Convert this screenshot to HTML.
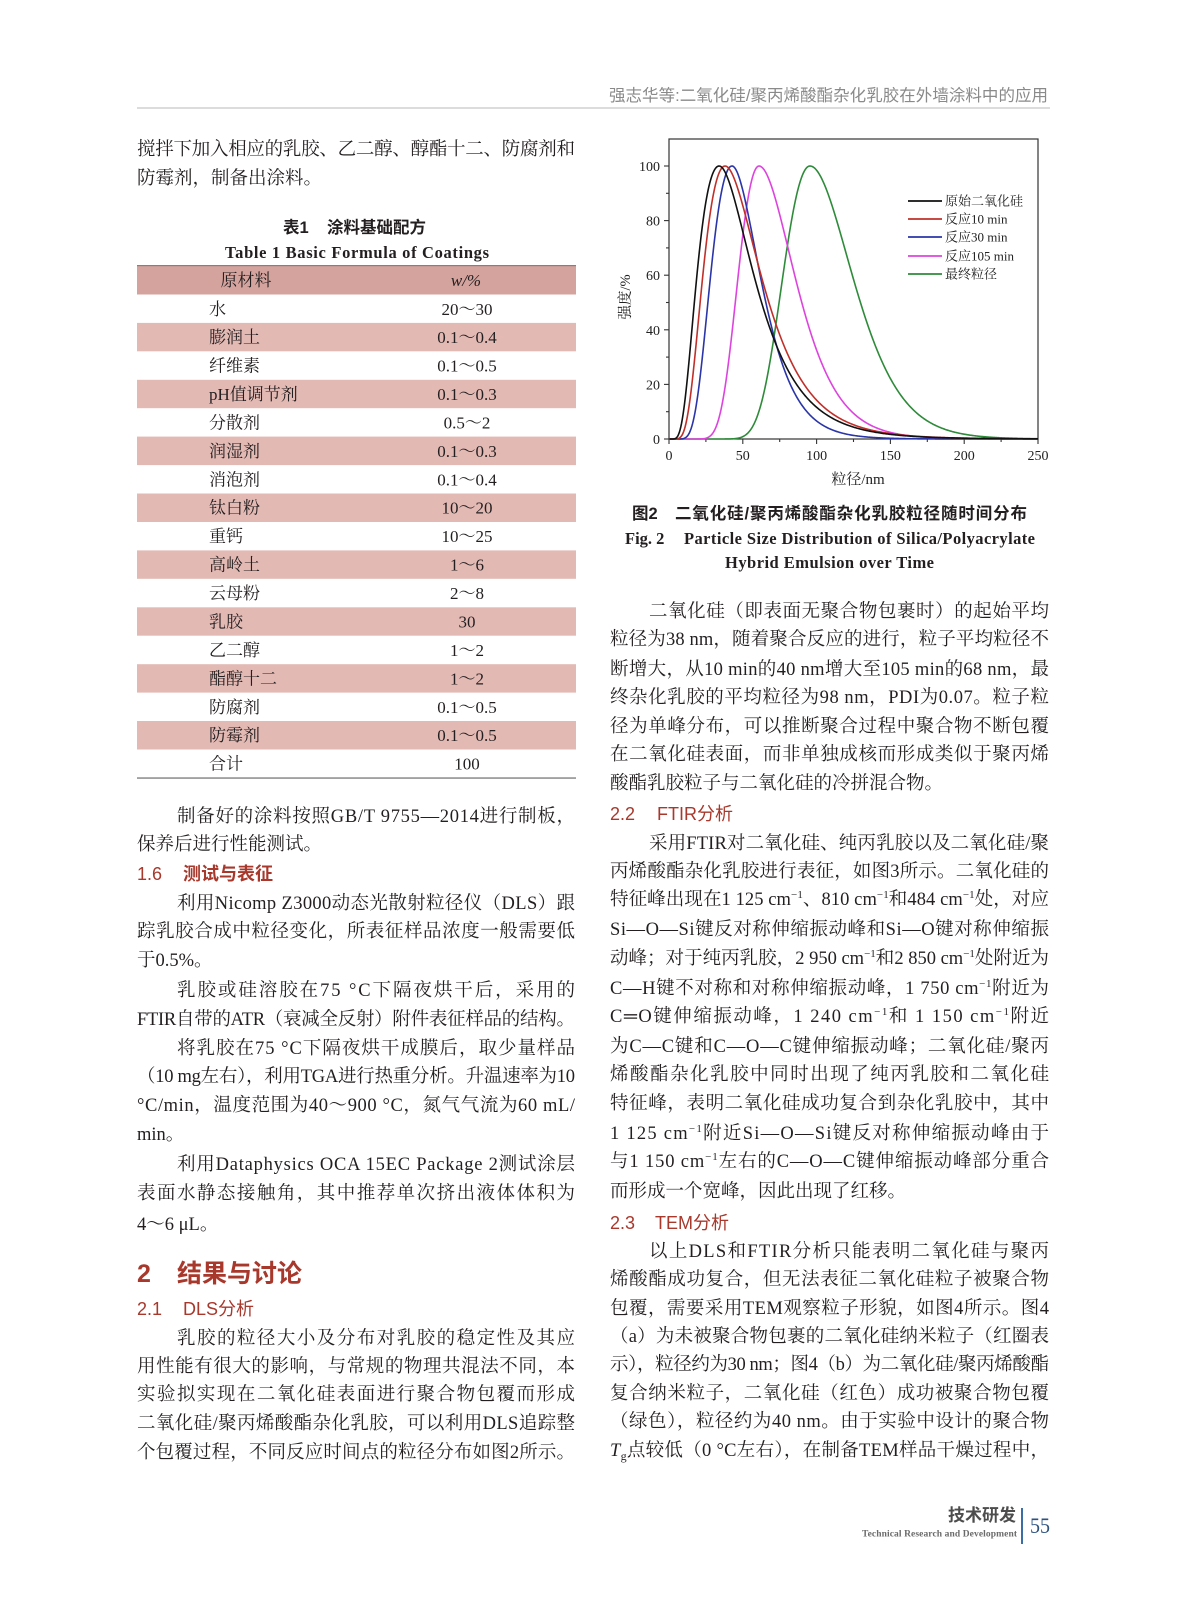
<!DOCTYPE html>
<html><head><meta charset="utf-8">
<style>
html,body{margin:0;padding:0;background:#fff;}
svg{display:block;}
.b{font-family:"Liberation Serif","Noto Serif CJK SC",serif;font-size:18.5px;fill:#231f20;}
.h{font-family:"Liberation Sans","Noto Sans CJK SC",sans-serif;font-size:18px;fill:#a8382c;}
.h2{font-family:"Liberation Sans","Noto Sans CJK SC",sans-serif;font-size:25px;font-weight:bold;fill:#a8382c;}
.t{font-family:"Liberation Serif","Noto Serif CJK SC",serif;font-size:17px;fill:#231f20;}
.cap{font-family:"Liberation Sans","Noto Sans CJK SC",sans-serif;font-size:16.5px;font-weight:bold;fill:#231f20;}
.capE{font-family:"Liberation Serif","Noto Serif CJK SC",serif;font-size:16.5px;font-weight:bold;fill:#231f20;}
.ax{font-family:"Liberation Serif","Noto Serif CJK SC",serif;font-size:14px;fill:#222;}
.lg{font-family:"Liberation Serif","Noto Serif CJK SC",serif;font-size:13px;fill:#222;}
</style></head>
<body>
<svg width="1187" height="1600" viewBox="0 0 1187 1600" xmlns="http://www.w3.org/2000/svg">
<rect width="1187" height="1600" fill="#fff"/>

<!-- running header -->
<text x="609" y="101" textLength="439" lengthAdjust="spacing" style="font-family:'Liberation Sans','Noto Sans CJK SC',sans-serif;font-size:16.5px;fill:#8a8a8a;">强志华等:二氧化硅/聚丙烯酸酯杂化乳胶在外墙涂料中的应用</text>
<rect x="137" y="107" width="913" height="2" fill="#dcdcdc"/>

<!-- LEFT COLUMN -->
<text class="b" x="137" y="155" textLength="438" lengthAdjust="spacing">搅拌下加入相应的乳胶、乙二醇、醇酯十二、防腐剂和</text>
<text class="b" x="137" y="184">防霉剂，制备出涂料。</text>

<text class="cap" x="283" y="233">表1<tspan x="327">涂料基础配方</tspan></text>
<text class="capE" x="225" y="258" textLength="264" lengthAdjust="spacing">Table 1  Basic Formula of Coatings</text>

<!-- table -->
<rect x="137" y="266" width="439" height="28.5" fill="#d5a39d"/>
<rect x="137" y="322.9" width="439" height="28.4" fill="#e3b9b4"/>
<rect x="137" y="379.8" width="439" height="28.4" fill="#e3b9b4"/>
<rect x="137" y="436.6" width="439" height="28.5" fill="#e3b9b4"/>
<rect x="137" y="493.5" width="439" height="28.5" fill="#e3b9b4"/>
<rect x="137" y="550.4" width="439" height="28.4" fill="#e3b9b4"/>
<rect x="137" y="607.3" width="439" height="28.4" fill="#e3b9b4"/>
<rect x="137" y="664.2" width="439" height="28.4" fill="#e3b9b4"/>
<rect x="137" y="721" width="439" height="28.5" fill="#e3b9b4"/>
<rect x="137" y="265" width="439" height="1.2" fill="#8c7c7a"/>
<rect x="137" y="777.3" width="439" height="1.5" fill="#8a8a8a"/>

<text class="t" x="246" y="286" text-anchor="middle">原材料</text>
<text class="t" x="466" y="286" text-anchor="middle" font-style="italic">w/%</text>

<text class="t" x="209" y="315">水</text><text class="t" x="467" y="315" text-anchor="middle">20～30</text>
<text class="t" x="209" y="343">膨润土</text><text class="t" x="467" y="343" text-anchor="middle">0.1～0.4</text>
<text class="t" x="209" y="371.5">纤维素</text><text class="t" x="467" y="371.5" text-anchor="middle">0.1～0.5</text>
<text class="t" x="209" y="400">pH值调节剂</text><text class="t" x="467" y="400" text-anchor="middle">0.1～0.3</text>
<text class="t" x="209" y="428.4">分散剂</text><text class="t" x="467" y="428.4" text-anchor="middle">0.5～2</text>
<text class="t" x="209" y="456.8">润湿剂</text><text class="t" x="467" y="456.8" text-anchor="middle">0.1～0.3</text>
<text class="t" x="209" y="485.3">消泡剂</text><text class="t" x="467" y="485.3" text-anchor="middle">0.1～0.4</text>
<text class="t" x="209" y="513.7">钛白粉</text><text class="t" x="467" y="513.7" text-anchor="middle">10～20</text>
<text class="t" x="209" y="542.2">重钙</text><text class="t" x="467" y="542.2" text-anchor="middle">10～25</text>
<text class="t" x="209" y="570.6">高岭土</text><text class="t" x="467" y="570.6" text-anchor="middle">1～6</text>
<text class="t" x="209" y="599">云母粉</text><text class="t" x="467" y="599" text-anchor="middle">2～8</text>
<text class="t" x="209" y="627.5">乳胶</text><text class="t" x="467" y="627.5" text-anchor="middle">30</text>
<text class="t" x="209" y="655.9">乙二醇</text><text class="t" x="467" y="655.9" text-anchor="middle">1～2</text>
<text class="t" x="209" y="684.4">酯醇十二</text><text class="t" x="467" y="684.4" text-anchor="middle">1～2</text>
<text class="t" x="209" y="712.8">防腐剂</text><text class="t" x="467" y="712.8" text-anchor="middle">0.1～0.5</text>
<text class="t" x="209" y="741.2">防霉剂</text><text class="t" x="467" y="741.2" text-anchor="middle">0.1～0.5</text>
<text class="t" x="209" y="769.7">合计</text><text class="t" x="467" y="769.7" text-anchor="middle">100</text>

<text class="b" x="177" y="822" textLength="398" lengthAdjust="spacing">制备好的涂料按照GB/T 9755—2014进行制板，</text>
<text class="b" x="137" y="850">保养后进行性能测试。</text>
<text class="h" x="137" y="880">1.6<tspan x="183" font-weight="bold">测试与表征</tspan></text>
<text class="b" x="177" y="909" textLength="398" lengthAdjust="spacing">利用Nicomp Z3000动态光散射粒径仪（DLS）跟</text>
<text class="b" x="137" y="937" textLength="438" lengthAdjust="spacing">踪乳胶合成中粒径变化，所表征样品浓度一般需要低</text>
<text class="b" x="137" y="966">于0.5%。</text>
<text class="b" x="177" y="996" textLength="398" lengthAdjust="spacing">乳胶或硅溶胶在75 °C下隔夜烘干后，采用的</text>
<text class="b" x="137" y="1025" textLength="438" lengthAdjust="spacing">FTIR自带的ATR（衰减全反射）附件表征样品的结构。</text>
<text class="b" x="177" y="1054" textLength="398" lengthAdjust="spacing">将乳胶在75 °C下隔夜烘干成膜后，取少量样品</text>
<text class="b" x="137" y="1082" textLength="438" lengthAdjust="spacing">（10 mg左右），利用TGA进行热重分析。升温速率为10</text>
<text class="b" x="137" y="1111" textLength="438" lengthAdjust="spacing">°C/min，温度范围为40～900 °C，氮气气流为60 mL/</text>
<text class="b" x="137" y="1140">min。</text>
<text class="b" x="177" y="1170" textLength="398" lengthAdjust="spacing">利用Dataphysics OCA 15EC Package 2测试涂层</text>
<text class="b" x="137" y="1199" textLength="438" lengthAdjust="spacing">表面水静态接触角，其中推荐单次挤出液体体积为</text>
<text class="b" x="137" y="1230">4～6 μL。</text>

<text class="h2" x="137" y="1282">2<tspan x="177">结果与讨论</tspan></text>
<text class="h" x="137" y="1315">2.1<tspan x="183">DLS分析</tspan></text>
<text class="b" x="177" y="1344" textLength="398" lengthAdjust="spacing">乳胶的粒径大小及分布对乳胶的稳定性及其应</text>
<text class="b" x="137" y="1372" textLength="438" lengthAdjust="spacing">用性能有很大的影响，与常规的物理共混法不同，本</text>
<text class="b" x="137" y="1400" textLength="438" lengthAdjust="spacing">实验拟实现在二氧化硅表面进行聚合物包覆而形成</text>
<text class="b" x="137" y="1429" textLength="438" lengthAdjust="spacing">二氧化硅/聚丙烯酸酯杂化乳胶，可以利用DLS追踪整</text>
<text class="b" x="137" y="1458" textLength="438" lengthAdjust="spacing">个包覆过程，不同反应时间点的粒径分布如图2所示。</text>

<!-- CHART -->
<g id="chart">
  <rect x="669" y="139" width="369" height="300" fill="none" stroke="#333" stroke-width="1.2"/>
  <g stroke="#333" stroke-width="1.1">
    <line x1="664" y1="439" x2="669" y2="439"/>
    <line x1="664" y1="384.4" x2="669" y2="384.4"/>
    <line x1="664" y1="329.8" x2="669" y2="329.8"/>
    <line x1="664" y1="275.2" x2="669" y2="275.2"/>
    <line x1="664" y1="220.6" x2="669" y2="220.6"/>
    <line x1="664" y1="166" x2="669" y2="166"/>
    <line x1="666" y1="411.7" x2="669" y2="411.7"/>
    <line x1="666" y1="357.1" x2="669" y2="357.1"/>
    <line x1="666" y1="302.5" x2="669" y2="302.5"/>
    <line x1="666" y1="247.9" x2="669" y2="247.9"/>
    <line x1="666" y1="193.3" x2="669" y2="193.3"/>
    <line x1="669" y1="439" x2="669" y2="444"/>
    <line x1="742.8" y1="439" x2="742.8" y2="444"/>
    <line x1="816.6" y1="439" x2="816.6" y2="444"/>
    <line x1="890.4" y1="439" x2="890.4" y2="444"/>
    <line x1="964.2" y1="439" x2="964.2" y2="444"/>
    <line x1="1038" y1="439" x2="1038" y2="444"/>
    <line x1="705.9" y1="439" x2="705.9" y2="442"/>
    <line x1="779.7" y1="439" x2="779.7" y2="442"/>
    <line x1="853.5" y1="439" x2="853.5" y2="442"/>
    <line x1="927.3" y1="439" x2="927.3" y2="442"/>
    <line x1="1001.1" y1="439" x2="1001.1" y2="442"/>
  </g>
  <text class="ax" x="660" y="444" text-anchor="end">0</text>
  <text class="ax" x="660" y="389.4" text-anchor="end">20</text>
  <text class="ax" x="660" y="334.8" text-anchor="end">40</text>
  <text class="ax" x="660" y="280.2" text-anchor="end">60</text>
  <text class="ax" x="660" y="225.6" text-anchor="end">80</text>
  <text class="ax" x="660" y="171" text-anchor="end">100</text>
  <text class="ax" x="669" y="460" text-anchor="middle">0</text>
  <text class="ax" x="742.8" y="460" text-anchor="middle">50</text>
  <text class="ax" x="816.6" y="460" text-anchor="middle">100</text>
  <text class="ax" x="890.4" y="460" text-anchor="middle">150</text>
  <text class="ax" x="964.2" y="460" text-anchor="middle">200</text>
  <text class="ax" x="1038" y="460" text-anchor="middle">250</text>
  <text class="ax" x="858" y="484" text-anchor="middle" style="font-size:15px">粒径/nm</text>
  <text class="ax" x="0" y="0" text-anchor="middle" transform="translate(630,297) rotate(-90)" style="font-size:14.5px">强度/%</text>

  <path id="c5" fill="none" stroke="#2e8b3a" stroke-width="1.6"/>
  <path id="c4" fill="none" stroke="#dd44dd" stroke-width="1.6"/>
  <path id="c3" fill="none" stroke="#2a35a8" stroke-width="1.6"/>
  <path id="c2" fill="none" stroke="#c0302a" stroke-width="1.6"/>
  <path id="c1" fill="none" stroke="#111111" stroke-width="1.6"/>

  <g stroke-width="1.8">
    <line x1="908" y1="201" x2="942" y2="201" stroke="#111"/>
    <line x1="908" y1="219" x2="942" y2="219" stroke="#c0302a"/>
    <line x1="908" y1="237" x2="942" y2="237" stroke="#2a35a8"/>
    <line x1="908" y1="256" x2="942" y2="256" stroke="#dd44dd"/>
    <line x1="908" y1="274" x2="942" y2="274" stroke="#2e8b3a"/>
  </g>
  <text class="lg" x="945" y="205.5" textLength="78" lengthAdjust="spacing">原始二氧化硅</text>
  <text class="lg" x="945" y="223.5">反应10 min</text>
  <text class="lg" x="945" y="241.5">反应30 min</text>
  <text class="lg" x="945" y="260.5">反应105 min</text>
  <text class="lg" x="945" y="278.5">最终粒径</text>
</g>

<text class="cap" x="632" y="519">图2<tspan x="675" textLength="352" lengthAdjust="spacing">二氧化硅/聚丙烯酸酯杂化乳胶粒径随时间分布</tspan></text>
<text class="capE" x="625" y="544">Fig. 2<tspan x="684" textLength="351" lengthAdjust="spacing">Particle Size Distribution of Silica/Polyacrylate</tspan></text>
<text class="capE" x="725" y="568" textLength="209" lengthAdjust="spacing">Hybrid Emulsion over Time</text>

<!-- RIGHT COLUMN TEXT -->
<text class="b" x="649" y="617" textLength="400" lengthAdjust="spacing">二氧化硅（即表面无聚合物包裹时）的起始平均</text>
<text class="b" x="610" y="645" textLength="439" lengthAdjust="spacing">粒径为38 nm，随着聚合反应的进行，粒子平均粒径不</text>
<text class="b" x="610" y="675" textLength="439" lengthAdjust="spacing">断增大，从10 min的40 nm增大至105 min的68 nm，最</text>
<text class="b" x="610" y="703" textLength="439" lengthAdjust="spacing">终杂化乳胶的平均粒径为98 nm，PDI为0.07。粒子粒</text>
<text class="b" x="610" y="732" textLength="439" lengthAdjust="spacing">径为单峰分布，可以推断聚合过程中聚合物不断包覆</text>
<text class="b" x="610" y="760" textLength="439" lengthAdjust="spacing">在二氧化硅表面，而非单独成核而形成类似于聚丙烯</text>
<text class="b" x="610" y="789">酸酯乳胶粒子与二氧化硅的冷拼混合物。</text>

<text class="h" x="610" y="820">2.2<tspan x="657">FTIR分析</tspan></text>
<text class="b" x="649" y="849" textLength="400" lengthAdjust="spacing">采用FTIR对二氧化硅、纯丙乳胶以及二氧化硅/聚</text>
<text class="b" x="610" y="877" textLength="439" lengthAdjust="spacing">丙烯酸酯杂化乳胶进行表征，如图3所示。二氧化硅的</text>
<text class="b" x="610" y="905" textLength="439" lengthAdjust="spacing">特征峰出现在1 125 cm<tspan dy="-7" font-size="11">−1</tspan><tspan dy="7">、810 cm</tspan><tspan dy="-7" font-size="11">−1</tspan><tspan dy="7">和484 cm</tspan><tspan dy="-7" font-size="11">−1</tspan><tspan dy="7">处，对应</tspan></text>
<text class="b" x="610" y="935" textLength="439" lengthAdjust="spacing">Si—O—Si键反对称伸缩振动峰和Si—O键对称伸缩振</text>
<text class="b" x="610" y="964" textLength="439" lengthAdjust="spacing">动峰；对于纯丙乳胶，2 950 cm<tspan dy="-7" font-size="11">−1</tspan><tspan dy="7">和2 850 cm</tspan><tspan dy="-7" font-size="11">−1</tspan><tspan dy="7">处附近为</tspan></text>
<text class="b" x="610" y="994" textLength="439" lengthAdjust="spacing">C—H键不对称和对称伸缩振动峰，1 750 cm<tspan dy="-7" font-size="11">−1</tspan><tspan dy="7">附近为</tspan></text>
<text class="b" x="610" y="1022" textLength="439" lengthAdjust="spacing">C═O键伸缩振动峰，1 240 cm<tspan dy="-7" font-size="11">−1</tspan><tspan dy="7">和 1 150 cm</tspan><tspan dy="-7" font-size="11">−1</tspan><tspan dy="7">附近</tspan></text>
<text class="b" x="610" y="1052" textLength="439" lengthAdjust="spacing">为C—C键和C—O—C键伸缩振动峰；二氧化硅/聚丙</text>
<text class="b" x="610" y="1080" textLength="439" lengthAdjust="spacing">烯酸酯杂化乳胶中同时出现了纯丙乳胶和二氧化硅</text>
<text class="b" x="610" y="1109" textLength="439" lengthAdjust="spacing">特征峰，表明二氧化硅成功复合到杂化乳胶中，其中</text>
<text class="b" x="610" y="1139" textLength="439" lengthAdjust="spacing">1 125 cm<tspan dy="-7" font-size="11">−1</tspan><tspan dy="7">附近Si—O—Si键反对称伸缩振动峰由于</tspan></text>
<text class="b" x="610" y="1167" textLength="439" lengthAdjust="spacing">与1 150 cm<tspan dy="-7" font-size="11">−1</tspan><tspan dy="7">左右的C—O—C键伸缩振动峰部分重合</tspan></text>
<text class="b" x="610" y="1197">而形成一个宽峰，因此出现了红移。</text>

<text class="h" x="610" y="1229">2.3<tspan x="655">TEM分析</tspan></text>
<text class="b" x="649" y="1257" textLength="400" lengthAdjust="spacing">以上DLS和FTIR分析只能表明二氧化硅与聚丙</text>
<text class="b" x="610" y="1285" textLength="439" lengthAdjust="spacing">烯酸酯成功复合，但无法表征二氧化硅粒子被聚合物</text>
<text class="b" x="610" y="1314" textLength="439" lengthAdjust="spacing">包覆，需要采用TEM观察粒子形貌，如图4所示。图4</text>
<text class="b" x="610" y="1342" textLength="439" lengthAdjust="spacing">（a）为未被聚合物包裹的二氧化硅纳米粒子（红圈表</text>
<text class="b" x="610" y="1370" textLength="439" lengthAdjust="spacing">示），粒径约为30 nm；图4（b）为二氧化硅/聚丙烯酸酯</text>
<text class="b" x="610" y="1399" textLength="439" lengthAdjust="spacing">复合纳米粒子，二氧化硅（红色）成功被聚合物包覆</text>
<text class="b" x="610" y="1427" textLength="439" lengthAdjust="spacing">（绿色），粒径约为40 nm。由于实验中设计的聚合物</text>
<text class="b" x="610" y="1456" textLength="439" lengthAdjust="spacing"><tspan font-style="italic">T</tspan><tspan dy="4" font-size="12">g</tspan><tspan dy="-4">点较低（0 °C左右），在制备TEM样品干燥过程中，</tspan></text>

<!-- footer -->
<text x="982" y="1521" text-anchor="middle" style="font-family:'Liberation Sans','Noto Sans CJK SC',sans-serif;font-size:17px;font-weight:bold;fill:#4d4d4d;">技术研发</text>
<text x="862" y="1536.5" textLength="155" lengthAdjust="spacing" style="font-family:'Liberation Serif',serif;font-size:9.5px;font-weight:bold;fill:#6a6a6a;">Technical Research and Development</text>
<rect x="1021" y="1508" width="2" height="36" fill="#3a6ea5"/>
<text x="1030" y="1533" textLength="20" lengthAdjust="spacingAndGlyphs" style="font-family:'Liberation Serif',serif;font-size:22px;fill:#2c5282;">55</text>
</svg>

<script>
(function(){
  var X=function(n){return 669+n*1.476;}, Y=function(v){return 439-v*2.73;};
  var cs=[['c1',34,0.58,0.52],['c2',38,0.50,0.49],['c3',42.7,0.41,0.365],['c4',61,0.26,0.33],['c5',95.5,0.21,0.26]];
  cs.forEach(function(c){
    var M=c[1], sl=c[2], sr=c[3], d='';
    for(var n=0.5;n<=250.001;n+=0.5){
      var s=n<M?sl:sr, l=Math.log(n/M);
      var v=100*Math.exp(-l*l/(2*s*s));
      d+=(d?'L':'M')+X(n).toFixed(2)+' '+Y(v).toFixed(2);
    }
    document.getElementById(c[0]).setAttribute('d',d);
  });
})();
</script>
</body></html>
